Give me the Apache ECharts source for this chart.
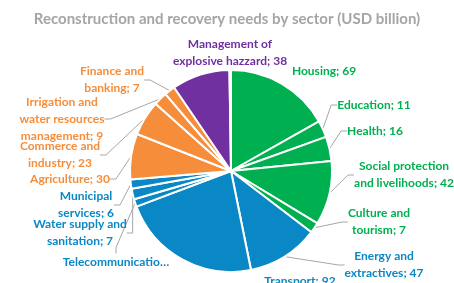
<!DOCTYPE html>
<html><head><meta charset="utf-8">
<script src="https://cdn.jsdelivr.net/npm/echarts@6/dist/echarts.min.js"></script>
<style>html,body{margin:0;padding:0;background:#fff}#c{width:454px;height:283px}</style>
</head><body><div id="c"></div>
<script>
const titleText = 'Reconstruction and recovery needs by sector (USD billion)';
const categories = ['Housing','Education','Health','Social protection\nand livelihoods','Culture and\ntourism','Energy and\nextractives','Transport','Telecommunications','Water supply and\nsanitation','Municipal\nservices','Agriculture','Commerce and\nindustry','Irrigation and\nwater resources\nmanagement','Finance and\nbanking','Management of\nexplosive hazzard','Other'];
const values = [69,11,16,42,7,47,92,5,7,6,30,23,9,7,38,1];
const groups = ['social','social','social','social','social','infra','infra','infra','infra','infra','prod','prod','prod','prod','cross','other'];
const groupColors = {social:'#00B050', infra:'#0A88C6', prod:'#F68D3A', cross:'#7030A0', other:'#1F4E99'};
// label anchor positions (label placement only)
const labelPos = [[324,71],[374,105],[375,131],[404,175],[379,222],[384,265],[300,281],[116,262],[80,233],[86,205],[70,179],[60,155],[62,119],[112,80],[230,53],null];
const noLeader = [0,6,14,15];

const chart = echarts.init(document.getElementById('c'), null, {renderer:'canvas'});
const data = values.map((v,i)=>({
  name: categories[i], value: v,
  itemStyle:{color: groupColors[groups[i]]},
  label:{show: groups[i] !== 'other', color: groupColors[groups[i]],
    formatter: i===7 ? 'Telecommunications; '+v : categories[i]+'; '+v,
    width: i===7 ? 114 : undefined, overflow: i===7 ? 'truncate' : 'none', ellipsis:'…'},
  labelLine:{show: noLeader.indexOf(i) < 0}
}));
chart.setOption({
  animation:false,
  title:{text:titleText, left:'center', top:7, textStyle:{fontFamily:'Lato', fontSize:15, fontWeight:'bold', color:'#A5A5A5'}},
  series:[{
    type:'pie', center:[231,171], radius:[0,101], startAngle:90, clockwise:true,
    avoidLabelOverlap:false,
    itemStyle:{borderColor:'#fff', borderWidth:2},
    label:{fontFamily:'Lato', fontSize:12, fontWeight:'bold', lineHeight:17, align:'center'},
    labelLine:{lineStyle:{color:'#A6A6A6', width:1}, length:8, length2:6},
    labelLayout: function(p){
      const pos = labelPos[p.dataIndex];
      if(!pos) return {};
      return {x:pos[0], y:pos[1], align:'center', verticalAlign:'middle'};
    },
    data:data
  }]
});
</script></body></html>
